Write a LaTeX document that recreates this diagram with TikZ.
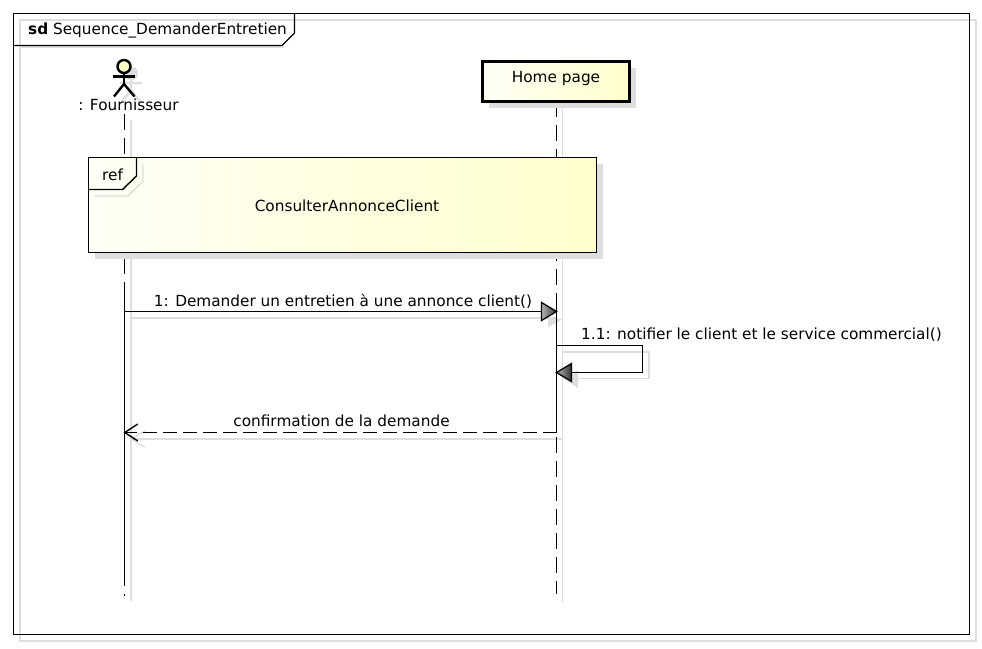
\documentclass[tikz,border=0pt]{standalone}
\usepackage{fontspec}
\setmainfont{DejaVu Sans}
\usetikzlibrary{arrows.meta,shadows}
\definecolor{shadowgray}{HTML}{DEDEDE}
\definecolor{paleyellow}{HTML}{FFFFF6}
\definecolor{noteyellow}{HTML}{FFFFCC}
\tikzset{
	frameline/.style={draw=black,line width=1.4pt},
	shadowline/.style={draw=shadowgray,line width=1.3pt},
	msgline/.style={draw=black,line width=1.6pt},
	lifedash/.style={draw=black,line width=1.6pt,dash pattern=on 16pt off 8pt},
	lifesolid/.style={draw=black,line width=1.6pt},
	boxshadow/.style={drop shadow={shadow xshift=6.5pt,shadow yshift=-6.5pt,fill=shadowgray,opacity=1}},
	lbl/.style={inner sep=0pt,font=\fontsize{15.3}{17}\selectfont,text=black},
	msgtip/.style={left color=black!30,right color=black!80,draw=black,line width=1.3pt,line join=miter},
	tipshadow/.style={fill=shadowgray,draw=none}
}
\begin{document}
\begin{tikzpicture}[x=1pt,y=-1pt]
	\useasboundingbox (0,0) rectangle (982,648);

	%frame
	\draw[shadowline] (20,20) rectangle (976,641);
	\draw[shadowline] (20,47)--(284,47);
	\node[frameline,minimum width=956pt,minimum height=621pt,inner sep=0pt] (frame) at (491.5,324) {};
	\draw[frameline] (13.5,45.5)--(282,45.5)--(294.5,33)--(294.5,13.5);
	\node[lbl,anchor=west] (framelabel) at (28,30) {\textbf{sd} Sequence\_DemanderEntretien};

	%lifeline coordinates
	\coordinate (fournTop)  at (124.5,114);
	\coordinate (fournOn)   at (124.5,282);
	\coordinate (fournOff)  at (124.5,585);
	\coordinate (fournEnd)  at (124.5,596);
	\coordinate (homeTop)   at (556.5,101);
	\coordinate (homeOn)    at (556.5,293);
	\coordinate (homeOff)   at (556.5,432.5);
	\coordinate (homeEnd)   at (556.5,594);
	\coordinate (msgA)      at (124.5,311.5);
	\coordinate (msgB)      at (556.5,311.5);
	\coordinate (selfA)     at (556.5,345.5);
	\coordinate (selfB)     at (642.5,345.5);
	\coordinate (selfC)     at (642.5,372.5);
	\coordinate (selfD)     at (556.5,372.5);
	\coordinate (backA)     at (556.5,432.5);
	\coordinate (backB)     at (123.5,432.5);

	%shadow lines
	\draw[shadowline] (131,120)--(131,601);
	\draw[shadowline] (562.5,109)--(562.5,602);
	\draw[shadowline] (131,318)--(556,318);
	\draw[shadowline] (563,352)--(649,352)--(649,378.5)--(563,378.5);
	\draw[shadowline] (131,439)--(563,439);
	\draw[shadowline] (131,439)--(145,431);
	\draw[shadowline] (131,439)--(145,447);
	\fill[tipshadow] (563,319)--(548,318)--(548,327)--cycle;
	\fill[tipshadow] (563,378)--(578,370)--(578,388)--cycle;

	%lifelines
	\draw[lifedash] (fournTop)--(fournEnd);
	\draw[lifesolid] (fournOn)--(fournOff);
	\draw[lifedash] (homeTop)--(homeEnd);
	\draw[lifesolid] (homeOn)--(homeOff);

	%actor
	\fill[shadowgray] (131,73.5) circle (7pt);
	\draw[shadowgray,line width=2.4pt] (131,79)--(131,90) (120,83)--(142,83) (121,103)--(131,90)--(141,103);
	\node[circle,draw=black,line width=2.4pt,fill=noteyellow,minimum size=13pt,inner sep=0pt] (head) at (124,66.5) {};
	\coordinate (hip) at (124,84);
	\draw[black,line width=2.4pt] (head.south)--(hip);
	\draw[black,line width=2.4pt] (113,76.5)--(135,76.5);
	\draw[black,line width=2.4pt] (114,96.5)--(hip)--(134.5,96.5);
	\node[lbl] (fourn) at (128.5,104.5) {: Fournisseur};

	%home page box
	\node[draw=black,line width=3pt,left color=paleyellow,right color=noteyellow,boxshadow,
		minimum width=147pt,minimum height=40pt,inner sep=0pt,lbl,text depth=10pt] (home) at (556,81.5) {Home page};

	%ref box
	\node[draw=black,line width=1.4pt,left color=paleyellow,right color=noteyellow,boxshadow,
		minimum width=508pt,minimum height=95pt,inner sep=0pt] (refbox) at (342.5,205) {};
	\draw[shadowline] (94,196)--(128,196)--(143,181.5)--(143,164);
	\draw[frameline] (88.5,189.5)--(122.5,189.5)--(136.5,176)--(136.5,157.5);
	\node[lbl] (reftag) at (112.5,174.5) {ref};
	\node[lbl] (refname) at (347,206) {ConsulterAnnonceClient};

	%messages
	\draw[msgline] (msgA)--(msgB);
	\shade[msgtip] (msgB)--++(-15,-9)--++(0,18)--cycle;
	\draw[msgline] (selfA)--(selfB)--(selfC)--(selfD);
	\shade[msgtip] (selfD)--++(15,-9)--++(0,18)--cycle;
	\draw[msgline,dash pattern=on 14pt off 6pt,-{Straight Barb[length=13pt,width=17pt,line width=1.4pt]}] (backA)--(backB);

	%message labels
	\node[lbl] (msgAlbl) at (343,301) {1: Demander un entretien à une annonce client()};
	\node[lbl] (selfAlbl) at (761.5,335) {1.1: notifier le client et le service commercial()};
	\node[lbl] (backAlbl) at (341.5,421) {confirmation de la demande};
\end{tikzpicture}
\end{document}
